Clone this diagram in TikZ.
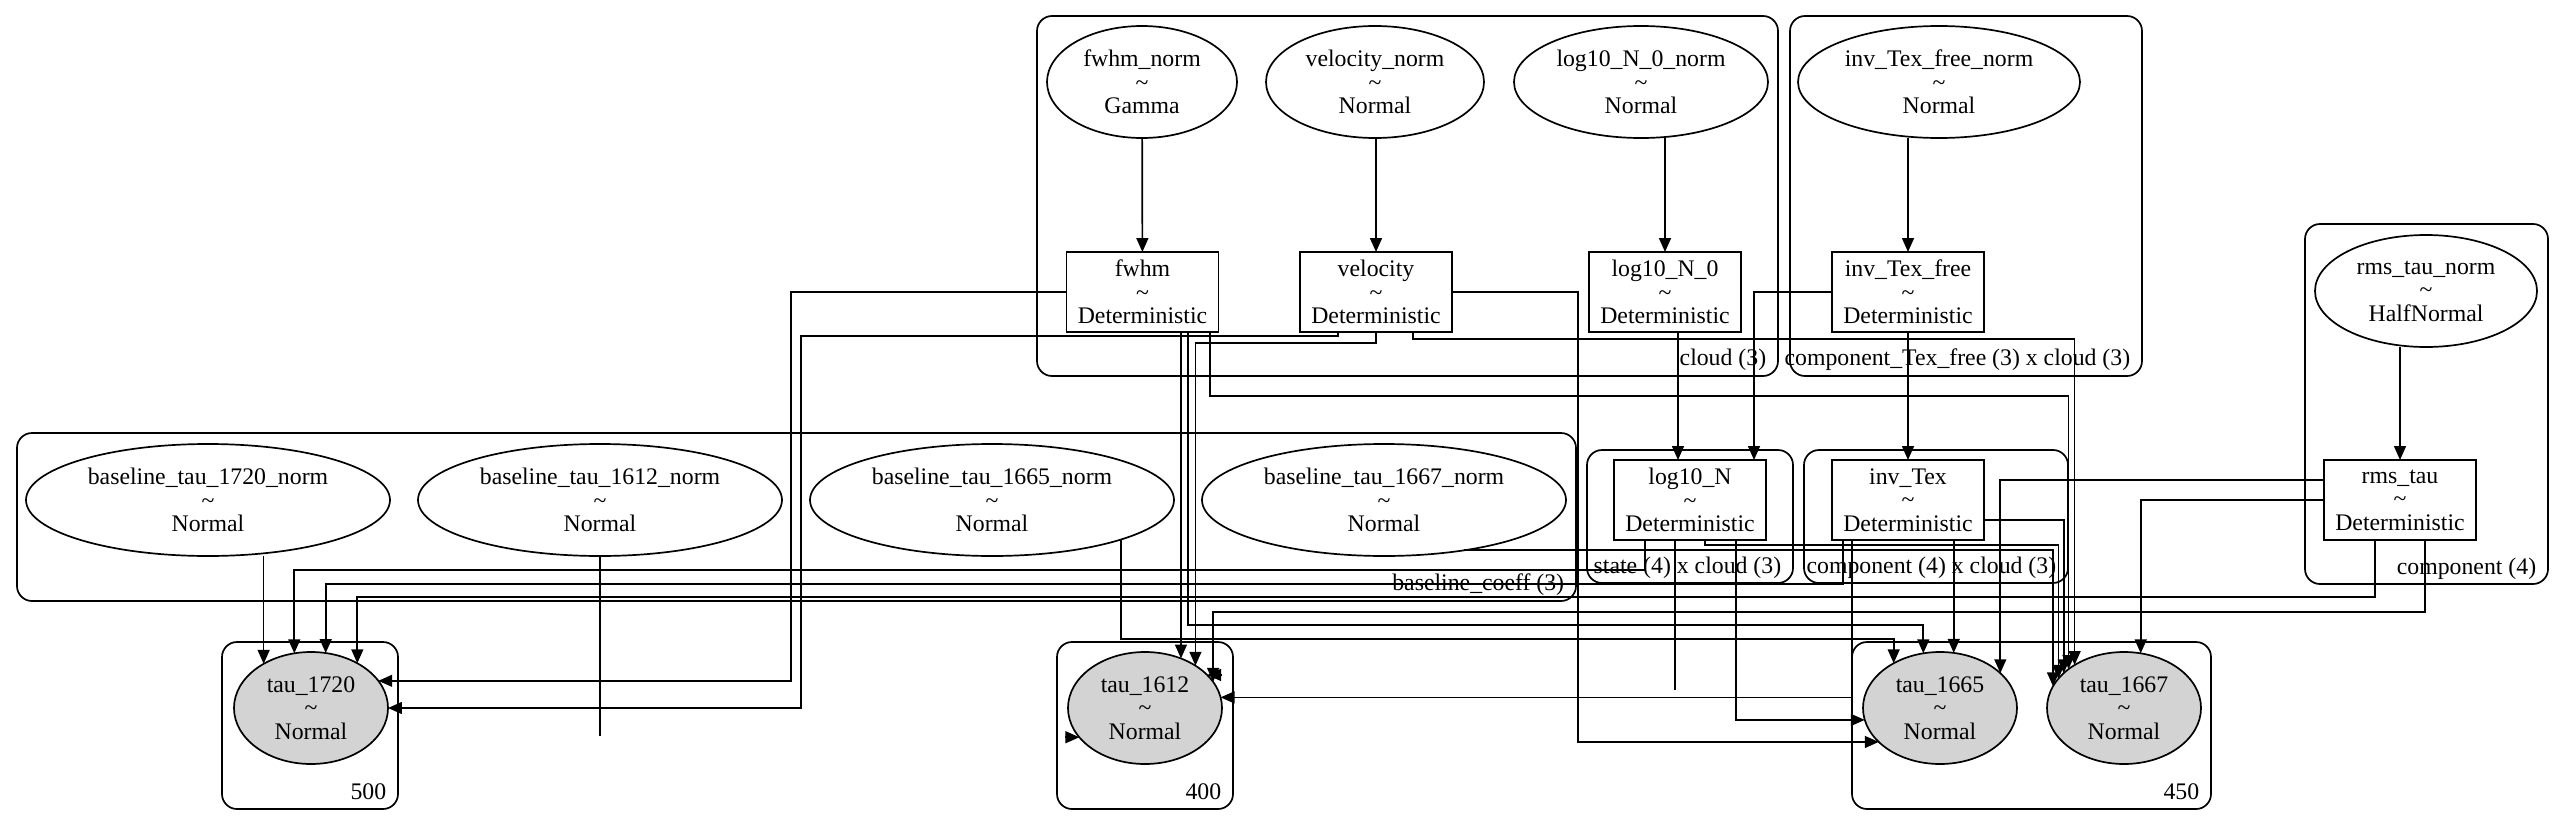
\documentclass[tikz,border=0pt]{standalone}
\usepackage{fontspec}
\setmainfont{Liberation Serif}
\usetikzlibrary{arrows.meta, shapes.geometric}
\definecolor{obsgray}{RGB}{211,211,211}
\newdimen\pxu \pxu=0.589pt

\begin{document}
\begin{tikzpicture}[x=0.589pt, y=-0.589pt, line width=1pt,
            font=\fontsize{14}{13.8}\selectfont,
            freevar/.style={ellipse, draw, inner sep=0pt, outer sep=0pt, align=center, minimum height=112\pxu},
            detvar/.style={rectangle, draw, inner sep=0pt, outer sep=0pt, align=center, minimum width=152\pxu, minimum height=80\pxu},
            obsvar/.style={freevar, fill=obsgray, minimum width=154\pxu},
            plate/.style={draw, rounded corners=15\pxu},
            platelabel/.style={anchor=base east, inner sep=0pt},
            link/.style={-{Triangle[length=8.2pt, width=7pt]}}]

        \useasboundingbox (0,0) rectangle (2564,826);

        %%--------------------------plates--------------------------
        \draw[plate] (1037,16) rectangle (1778,376);
        \draw[plate] (1790,16) rectangle (2142,376);
        \draw[plate] (2305,224) rectangle (2548,584);
        \draw[plate] (17,433) rectangle (1576,601);
        \draw[plate] (1587,450) rectangle (1793,583);
        \draw[plate] (1804,450) rectangle (2068,583);
        \draw[plate] (222,642) rectangle (398,809);
        \draw[plate] (1057,642) rectangle (1233,809);
        \draw[plate] (1852,642) rectangle (2211,809);

        \node[platelabel] (lcloud) at (1767,365) {cloud (3)};
        \node[platelabel] (ltexfree) at (2131,365) {component\_Tex\_free (3) x cloud (3)};
        \node[platelabel] (lcomp) at (2537,574) {component (4)};
        \node[platelabel] (lbase) at (1565,590) {baseline\_coeff (3)};
        \node[platelabel] (lstate) at (1782,573) {state (4) x cloud (3)};
        \node[platelabel] (lcompcloud) at (2057,573) {component (4) x cloud (3)};
        \node[platelabel] (l500) at (387,799) {500};
        \node[platelabel] (l400) at (1222,799) {400};
        \node[platelabel] (l450) at (2200,799) {450};

        %%--------------------------nodes--------------------------
        \node[freevar, minimum width=190\pxu] (fwhmn) at (1142,82) {fwhm\_norm\\\textasciitilde\\Gamma};
        \node[freevar, minimum width=218\pxu] (veln) at (1375,82) {velocity\_norm\\\textasciitilde\\Normal};
        \node[freevar, minimum width=254\pxu] (logNzn) at (1641,82) {log10\_N\_0\_norm\\\textasciitilde\\Normal};
        \node[freevar, minimum width=282\pxu] (texfn) at (1939,82) {inv\_Tex\_free\_norm\\\textasciitilde\\Normal};
        \node[freevar, minimum width=222\pxu] (rmsn) at (2426,291) {rms\_tau\_norm\\\textasciitilde\\HalfNormal};

        \node[detvar] (fwhm) at (1142.5,292) {fwhm\\\textasciitilde\\Deterministic};
        \node[detvar] (vel) at (1376,292) {velocity\\\textasciitilde\\Deterministic};
        \node[detvar] (logNz) at (1665,292) {log10\_N\_0\\\textasciitilde\\Deterministic};
        \node[detvar] (texf) at (1908,292) {inv\_Tex\_free\\\textasciitilde\\Deterministic};
        \node[detvar] (logN) at (1690,500) {log10\_N\\\textasciitilde\\Deterministic};
        \node[detvar] (tex) at (1908,500) {inv\_Tex\\\textasciitilde\\Deterministic};
        \node[detvar] (rms) at (2400,500) {rms\_tau\\\textasciitilde\\Deterministic};

        \node[freevar, minimum width=364\pxu] (b1720) at (208,500) {baseline\_tau\_1720\_norm\\\textasciitilde\\Normal};
        \node[freevar, minimum width=364\pxu] (b1612) at (600,500) {baseline\_tau\_1612\_norm\\\textasciitilde\\Normal};
        \node[freevar, minimum width=364\pxu] (b1665) at (992,500) {baseline\_tau\_1665\_norm\\\textasciitilde\\Normal};
        \node[freevar, minimum width=364\pxu] (b1667) at (1384,500) {baseline\_tau\_1667\_norm\\\textasciitilde\\Normal};

        \node[obsvar] (t1720) at (311,708) {tau\_1720\\\textasciitilde\\Normal};
        \node[obsvar] (t1612) at (1145,708) {tau\_1612\\\textasciitilde\\Normal};
        \node[obsvar] (t1665) at (1940,708) {tau\_1665\\\textasciitilde\\Normal};
        \node[obsvar] (t1667) at (2124,708) {tau\_1667\\\textasciitilde\\Normal};

        \coordinate (b1612end) at (600,736);
        \coordinate (logNend) at (1675,690);

        %%--------------------------edges--------------------------
        \draw[link] (fwhmn) -- (fwhm);
        \draw[link] (vel.north |- veln.south) -- (vel.north);
        \draw[link] (logNz.north |- logNzn.south) -- (logNz.north);
        \draw[link] (texf.north |- texfn.south) -- (texf.north);
        \draw[link] (rms.north |- rmsn.south) -- (rms.north);

        \draw[link] (logNz.south -| 1678,0) -- (logN.north -| 1678,0);
        \draw[link] (texf.west) -| (logN.north -| 1754,0);
        \draw[link] (texf) -- (tex);

        \draw[link] (fwhm.west) -| (t1720.22 -| 791,0) -- (t1720.22);
        \draw[link] (fwhm.south -| t1612.54) -- (t1612.54);
        \draw[link] (fwhm.south -| 1188,0) |- (t1665.107 |- 0,625) -- (t1665.107);
        \draw[link] (fwhm.south -| 1210,0) |- (t1667.145 |- 0,396) -- (t1667.145);

        \draw[link] (vel.south -| 1338,0) |- (801,336) |- (t1720.east);
        \draw[link] (vel.south) |- (t1612.40 |- 0,343) -- (t1612.40);
        \draw[link] (vel.east) -| (t1665.209 -| 1578,0) -- (t1665.209);
        \draw[link] (vel.south -| 1413,0) |- (t1667.139 |- 0,339) -- (t1667.139);

        \draw[link] (t1720.137 |- b1720.south) -- (t1720.137);
        \draw (b1612.south) -- (b1612end);
        \draw[link] ([xshift=-14\pxu]t1612.204) -- (t1612.204);
        \draw[link] (b1665.343) |- (t1665.136 |- 0,639) -- (t1665.136);
        \draw[link] (b1667.328) -| (t1667.163);

        \draw[link] (logN.south -| 1645,0) |- (t1720.107 |- 0,570) -- (t1720.107);
        \draw (logN.south -| 1675,0) -- (logNend);
        \draw[link] ([xshift=14\pxu]t1612.28) -- (t1612.28);
        \draw[link] (logN.south -| 1736,0) |- (t1665.189);
        \draw[link] (logN.south -| 1705,0) |- (t1667.156 |- 0,545) -- (t1667.156);

        \draw[link] (tex.south -| 1843,0) |- (t1720.75 |- 0,584) -- (t1720.75);
        \draw[link] (tex.south -| 1852,0) |- (t1612.8);
        \draw[link] (tex.south -| t1665.76) -- (t1665.76);
        \draw[link] (tex.east |- 0,520) -| (t1667.150);

        \draw[link] (rms.south -| 2375,0) |- (t1720.44 |- 0,597) -- (t1720.44);
        \draw[link] (rms.south -| 2425,0) |- (t1612.21 |- 0,612) -- (t1612.21);
        \draw[link] (rms.west |- 0,480) -| (t1665.30);
        \draw[link] (rms.west) -| (t1667.73);

    \end{tikzpicture}
\end{document}
